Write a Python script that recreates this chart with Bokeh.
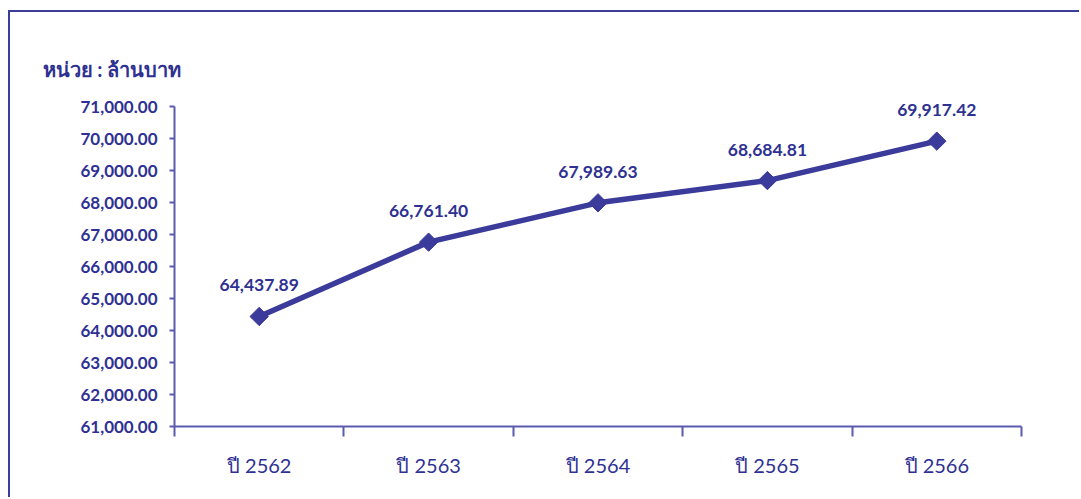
import math
from bokeh.plotting import figure
from bokeh.models import (FixedTicker, NumeralTickFormatter, ColumnDataSource,
                          Range1d, LabelSet, Title)
from bokeh.core.properties import value
from bokeh.embed import file_html
from bokeh.resources import INLINE

categories = ["ปี 2562", "ปี 2563", "ปี 2564", "ปี 2565", "ปี 2566"]
values = [64437.89, 66761.40, 67989.63, 68684.81, 69917.42]
value_labels = ["64,437.89", "66,761.40", "67,989.63", "68,684.81", "69,917.42"]
y_ticks = [61000, 62000, 63000, 64000, 65000, 66000, 67000, 68000, 69000, 70000, 71000]
unit_text = "หน่วย : ล้านบาท"

LINE = "#3b3b9b"
TEXT = "#2e3192"
AXIS = "#5a5aae"
FONT = "Lato"

xs = [i + 0.5 for i in range(len(categories))]
src = ColumnDataSource(dict(x=xs, y=values, lab=value_labels))

p = figure(width=1071, height=487, output_backend="svg", toolbar_location=None,
           x_range=Range1d(0, len(categories)), y_range=Range1d(61000, 71250),
           min_border_left=164, min_border_right=60, min_border_top=86,
           min_border_bottom=73, title=None)
p.styles = {"margin-left": "8px", "margin-top": "10px",
            "border-left": "2px solid #3a3d99", "border-top": "2px solid #3a3d99"}
p.outline_line_color = None
p.grid.visible = False
p.background_fill_color = "white"

p.line("x", "y", source=src, line_color=LINE, line_width=5.5)
p.scatter("x", "y", source=src, marker="square", size=13, angle=math.pi / 4,
          fill_color=LINE, line_color=LINE, line_width=1)

labels = LabelSet(x="x", y="y", text="lab", source=src, y_offset=31,
                  x_offset=0, text_align="center", text_baseline="middle",
                  text_font=value(FONT), text_font_style="bold",
                  text_font_size="17.5px", text_color=TEXT)
p.add_layout(labels)

t = Title(text=unit_text, align="left", offset=-132, standoff=35,
          text_font=FONT, text_font_style="bold", text_font_size="20px",
          text_color=TEXT)
p.add_layout(t, "above")

# x axis: labels at centers, ticks at boundaries
xt = FixedTicker(ticks=xs, minor_ticks=list(range(len(categories) + 1)))
p.xaxis.ticker = xt
p.xaxis.major_label_overrides = {x: c for x, c in zip(xs, categories)}
p.xaxis.major_tick_line_color = None
p.xaxis.minor_tick_line_color = AXIS
p.xaxis.minor_tick_line_width = 2
p.xaxis.minor_tick_out = 10
p.xaxis.minor_tick_in = 0
p.xaxis.axis_line_color = AXIS
p.xaxis.axis_line_width = 2
p.xaxis.major_label_text_font = FONT
p.xaxis.major_label_text_font_size = "20px"
p.xaxis.major_label_text_color = TEXT
p.xaxis.major_label_standoff = 16

p.yaxis.ticker = FixedTicker(ticks=y_ticks)
p.yaxis.bounds = (61000, 71000)
p.yaxis.formatter = NumeralTickFormatter(format="0,0.00")
p.yaxis.minor_tick_line_color = None
p.yaxis.major_tick_line_color = AXIS
p.yaxis.major_tick_line_width = 2
p.yaxis.major_tick_out = 5
p.yaxis.major_tick_in = 0
p.yaxis.axis_line_color = AXIS
p.yaxis.axis_line_width = 2
p.yaxis.major_label_text_font = FONT
p.yaxis.major_label_text_font_style = "bold"
p.yaxis.major_label_text_font_size = "17px"
p.yaxis.major_label_text_color = TEXT
p.yaxis.major_label_standoff = 12

open("out.html", "w").write(file_html(p, INLINE))
